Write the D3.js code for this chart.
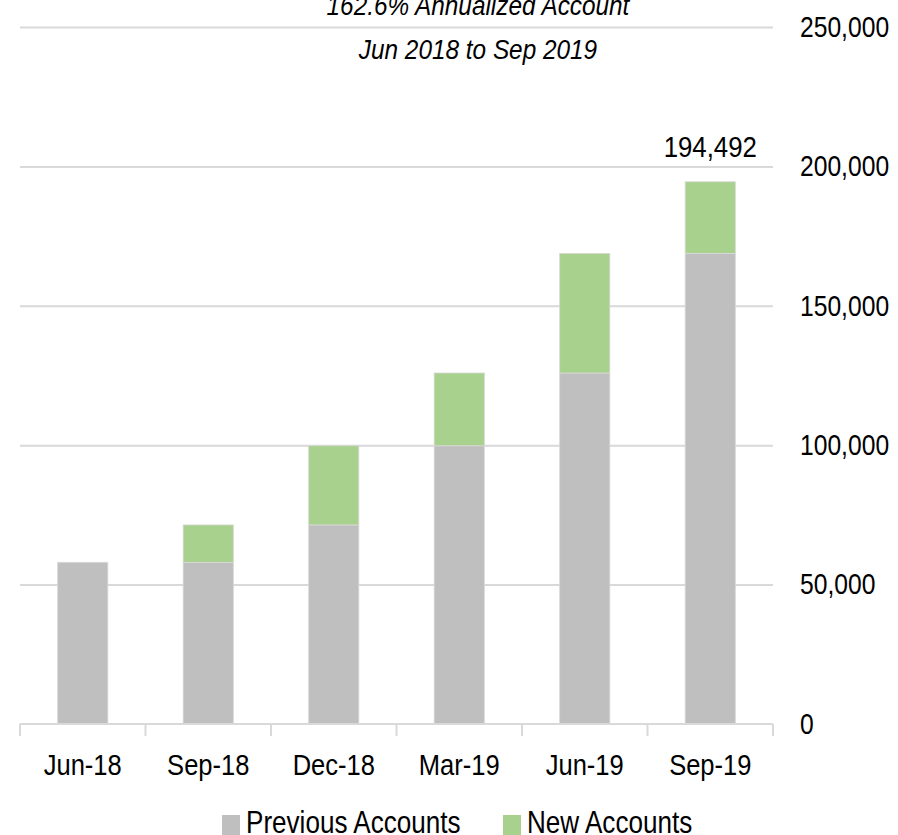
<!DOCTYPE html>
<html>
<head>
<meta charset="utf-8">
<script src="https://cdn.jsdelivr.net/npm/d3@7"></script>
<style>
  body { margin: 0; background: #fff; }
  text { font-family: "Liberation Sans", Arial, sans-serif; fill: #000; }
  .grid line { stroke: #d9d9d9; stroke-width: 2; }
  .grid path { display: none; }
</style>
</head>
<body>
<div id="chart"></div>
<script>
// chart values
var categories = ["Jun-18", "Sep-18", "Dec-18", "Mar-19", "Jun-19", "Sep-19"];
var previousAccounts = [58000, 58000, 71400, 99800, 125900, 168800];
var newAccounts = [0, 13400, 28400, 26100, 42900, 25692];
var yTicks = [0, 50000, 100000, 150000, 200000, 250000];
var seriesNames = ["Previous Accounts", "New Accounts"];
var seriesColors = ["#bfbfbf", "#a9d18e"];
var titleLines = ["162.6% Annualized Account", "Jun 2018 to Sep 2019"];
var totalLabel = "194,492";

var width = 898, height = 835;
var margin = {top: 27, right: 125, bottom: 111, left: 20};
var narrow = 0.88; // squeeze Liberation Sans toward a narrow face

var svg = d3.select("#chart").append("svg")
    .attr("width", width)
    .attr("height", height);

// squeeze text horizontally, keeping its anchor point in place
function squeeze(sel, s) {
  sel.each(function() {
    var t = d3.select(this);
    var x0 = +t.attr("x") || 0;
    t.attr("x", x0 / s).attr("transform", "scale(" + s + ",1)");
  });
}

var x = d3.scaleBand()
    .domain(categories)
    .range([margin.left, width - margin.right])
    .paddingInner(0.6)
    .paddingOuter(0.3);

var y = d3.scaleLinear()
    .domain([0, 250000])
    .range([height - margin.bottom, margin.top]);

// stack the two series
var rows = categories.map(function(c, i) {
  return {cat: c, prev: previousAccounts[i], added: newAccounts[i]};
});
var layers = d3.stack().keys(["prev", "added"])(rows);

// gridlines
svg.append("g")
    .attr("class", "grid")
    .attr("transform", "translate(" + margin.left + ",0)")
    .call(d3.axisRight(y).tickValues(yTicks.slice(1))
      .tickSize(width - margin.right - margin.left).tickFormat(""));

// bars
svg.selectAll(".layer")
    .data(layers)
  .enter().append("g")
    .attr("class", "layer")
    .attr("fill", function(d, i) { return seriesColors[i]; })
  .selectAll("rect")
    .data(function(d) { return d.filter(function(p) { return p[1] - p[0] > 0; }); })
  .enter().append("rect")
    .attr("x", function(d) { return x(d.data.cat); })
    .attr("y", function(d) { return y(d[1]); })
    .attr("width", x.bandwidth())
    .attr("height", function(d) { return y(d[0]) - y(d[1]); })
    .attr("stroke", "#d9d9d9")
    .attr("stroke-width", 0.8);

// x axis
var xAxis = svg.append("g")
    .attr("transform", "translate(0," + y(0) + ")");
xAxis.append("line")
    .attr("x1", margin.left).attr("x2", width - margin.right)
    .attr("stroke", "#d9d9d9").attr("stroke-width", 2);
var bounds = d3.range(categories.length + 1).map(function(i) {
  return margin.left + i * (width - margin.right - margin.left) / categories.length;
});
xAxis.selectAll(".tick-mark")
    .data(bounds)
  .enter().append("line")
    .attr("x1", function(d) { return d; })
    .attr("x2", function(d) { return d; })
    .attr("y1", 0).attr("y2", 12)
    .attr("stroke", "#d9d9d9").attr("stroke-width", 2);
xAxis.selectAll(".xlab")
    .data(categories)
  .enter().append("text")
    .attr("x", function(d) { return x(d) + x.bandwidth() / 2; })
    .attr("y", 51)
    .attr("text-anchor", "middle")
    .style("font-size", "29px")
    .text(function(d) { return d; })
    .call(squeeze, narrow);

// y axis on the right
var yAxis = svg.append("g")
    .attr("transform", "translate(" + (width - margin.right + 27) + ",0)")
    .call(d3.axisRight(y).tickValues(yTicks).tickSize(0).tickPadding(0)
      .tickFormat(d3.format(",")));
yAxis.select(".domain").remove();
yAxis.selectAll("text")
    .style("font-size", "29px")
    .call(squeeze, 0.85);

// total label on last bar
var lastCat = categories[categories.length - 1];
svg.append("text")
    .attr("x", x(lastCat) + x.bandwidth() / 2)
    .attr("y", y(previousAccounts[5] + newAccounts[5]) - 25)
    .attr("text-anchor", "middle")
    .style("font-size", "30px")
    .text(totalLabel)
    .call(squeeze, 0.86);

// titles
svg.selectAll(".title")
    .data(titleLines)
  .enter().append("text")
    .attr("x", 478)
    .attr("y", function(d, i) { return 15 + i * 44; })
    .attr("text-anchor", "middle")
    .style("font-size", "28px")
    .style("font-style", "italic")
    .text(function(d) { return d; })
    .call(squeeze, 0.87);

// legend
var legend = svg.append("g");
var legendX = [222, 503];
seriesNames.forEach(function(name, i) {
  legend.append("rect")
    .attr("x", legendX[i]).attr("y", 815)
    .attr("width", 18).attr("height", 20)
    .attr("fill", seriesColors[i]);
  legend.append("text")
    .attr("x", legendX[i] + 24).attr("y", 833)
    .style("font-size", "32px")
    .text(name)
    .call(squeeze, 0.815);
});
</script>
</body>
</html>
